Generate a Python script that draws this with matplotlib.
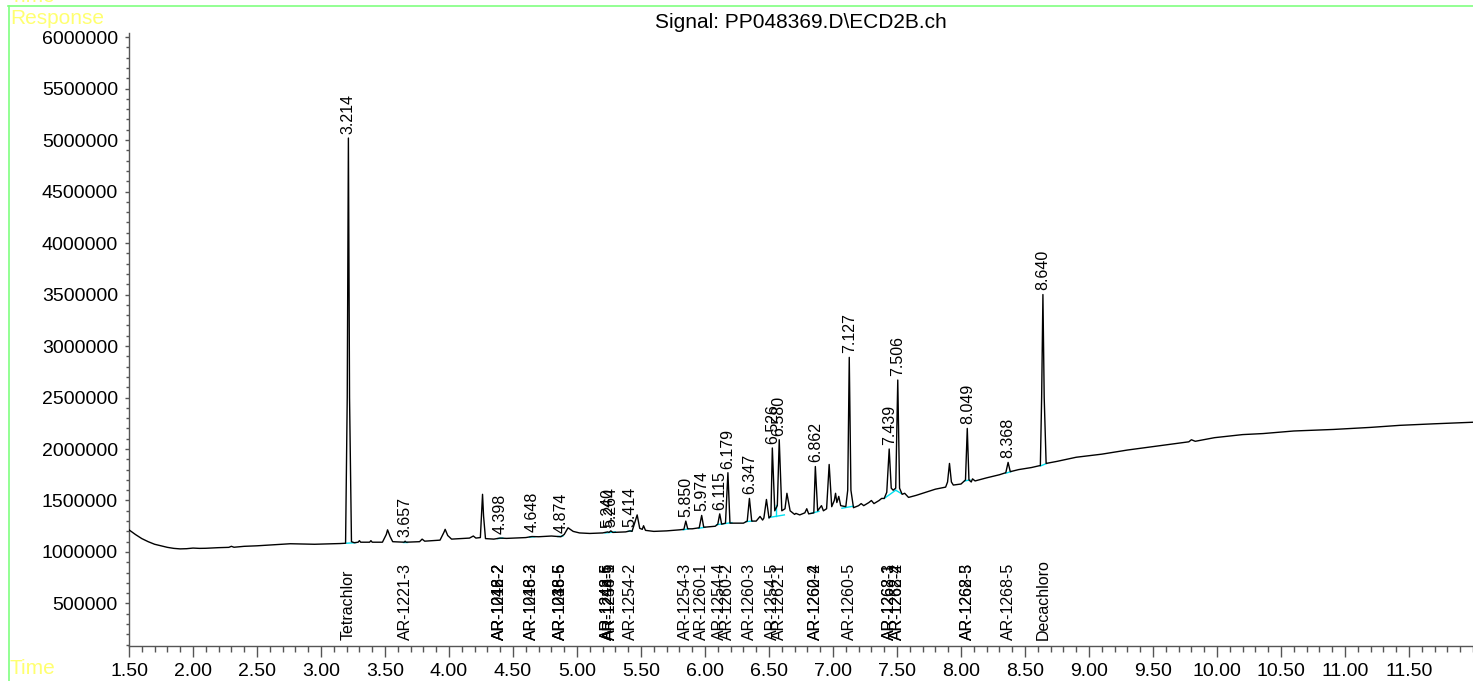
import numpy as np
import matplotlib.pyplot as plt
from matplotlib.lines import Line2D
from matplotlib.ticker import MultipleLocator, FuncFormatter

plt.rcParams['font.family'] = ['Liberation Sans', 'DejaVu Sans']

# chromatogram trace: time (min), response (millions)
trace_time = [
    1.50, 1.55, 1.60, 1.65, 1.70, 1.75, 1.80, 1.85, 1.90, 1.95, 2.00, 2.05, 2.10,
    2.20, 2.28, 2.30, 2.32, 2.40, 2.50, 2.60, 2.70, 2.76, 2.85, 2.95, 3.05, 3.15,
    3.192, 3.205, 3.214, 3.223, 3.238, 3.26, 3.29, 3.30, 3.31, 3.38, 3.39, 3.40,
    3.48, 3.51, 3.52, 3.54, 3.56, 3.65, 3.657, 3.665, 3.77, 3.79, 3.81, 3.93, 3.96,
    3.97, 3.99, 4.02, 4.16, 4.19, 4.21, 4.245, 4.255, 4.262, 4.27, 4.285, 4.35,
    4.398, 4.45, 4.60, 4.648, 4.70, 4.80, 4.874, 4.90, 4.93, 4.97, 5.02, 5.10,
    5.20, 5.240, 5.25, 5.264, 5.28, 5.38, 5.414, 5.43, 5.455, 5.47, 5.49, 5.51,
    5.52, 5.535, 5.60, 5.70, 5.80, 5.835, 5.850, 5.865, 5.90, 5.955, 5.974, 5.99,
    6.08, 6.10, 6.115, 6.13, 6.16, 6.179, 6.195, 6.30, 6.33, 6.347, 6.365, 6.40,
    6.43, 6.45, 6.46, 6.48, 6.50, 6.515, 6.526, 6.545, 6.565, 6.580, 6.60, 6.625,
    6.64, 6.665, 6.70, 6.71, 6.74, 6.78, 6.795, 6.81, 6.85, 6.862, 6.88, 6.91,
    6.925, 6.95, 6.97, 6.99, 7.01, 7.02, 7.03, 7.045, 7.06, 7.10, 7.115, 7.127,
    7.14, 7.16, 7.20, 7.22, 7.24, 7.28, 7.30, 7.32, 7.36, 7.38, 7.40, 7.42, 7.439,
    7.455, 7.47, 7.49, 7.506, 7.52, 7.54, 7.56, 7.59, 7.65, 7.70, 7.80, 7.88,
    7.895, 7.91, 7.925, 7.94, 8.00, 8.035, 8.049, 8.062, 8.08, 8.09, 8.11, 8.20,
    8.30, 8.35, 8.368, 8.385, 8.45, 8.55, 8.62, 8.630, 8.640, 8.650, 8.665, 8.75,
    8.90, 9.10, 9.30, 9.48, 9.60, 9.78, 9.80, 9.83, 9.98, 10.20, 10.36, 10.60,
    10.91, 11.20, 11.43, 11.70, 12.00,
]
trace_resp_m = [
    1.215, 1.17, 1.13, 1.10, 1.075, 1.06, 1.045, 1.035, 1.030, 1.032, 1.038, 1.035, 1.036,
    1.042, 1.045, 1.055, 1.046, 1.055, 1.060, 1.068, 1.075, 1.080, 1.078, 1.075, 1.078, 1.082,
    1.085, 2.50, 5.02, 2.50, 1.10, 1.090, 1.095, 1.11, 1.095, 1.095, 1.11, 1.095,
    1.095, 1.17, 1.215, 1.15, 1.10, 1.095, 1.105, 1.095, 1.10, 1.125, 1.105, 1.115, 1.19,
    1.22, 1.16, 1.125, 1.135, 1.155, 1.135, 1.14, 1.40, 1.56, 1.35, 1.13, 1.125,
    1.135, 1.132, 1.14, 1.15, 1.148, 1.155, 1.148, 1.17, 1.235, 1.20, 1.185, 1.18,
    1.185, 1.195, 1.19, 1.205, 1.19, 1.195, 1.205, 1.20, 1.30, 1.36, 1.23, 1.22,
    1.255, 1.21, 1.20, 1.205, 1.215, 1.22, 1.30, 1.225, 1.225, 1.235, 1.355, 1.24,
    1.25, 1.27, 1.37, 1.27, 1.28, 1.77, 1.28, 1.28, 1.30, 1.52, 1.30, 1.30,
    1.345, 1.31, 1.33, 1.51, 1.33, 1.35, 2.01, 1.40, 1.45, 2.09, 1.40, 1.42,
    1.57, 1.40, 1.365, 1.375, 1.36, 1.38, 1.42, 1.37, 1.38, 1.83, 1.40, 1.45,
    1.40, 1.42, 1.85, 1.44, 1.50, 1.57, 1.48, 1.54, 1.45, 1.44, 1.60, 2.89,
    1.60, 1.43, 1.45, 1.47, 1.45, 1.48, 1.50, 1.47, 1.50, 1.52, 1.52, 1.58, 2.00,
    1.62, 1.60, 1.62, 2.67, 1.62, 1.56, 1.57, 1.53, 1.55, 1.57, 1.61, 1.63,
    1.68, 1.86, 1.68, 1.65, 1.66, 1.70, 2.20, 1.70, 1.68, 1.71, 1.69, 1.72,
    1.75, 1.77, 1.87, 1.78, 1.80, 1.82, 1.84, 2.50, 3.50, 2.50, 1.86, 1.88,
    1.92, 1.95, 1.99, 2.02, 2.04, 2.07, 2.09, 2.075, 2.11, 2.14, 2.15, 2.175,
    2.19, 2.21, 2.23, 2.245, 2.26,
]

# labelled peaks: retention time and apex response (millions)
peak_rt = [3.214, 3.657, 4.398, 4.648, 4.874, 5.240, 5.264, 5.414, 5.850, 5.974,
           6.115, 6.179, 6.347, 6.526, 6.580, 6.862, 7.127, 7.439, 7.506, 8.049,
           8.368, 8.640]
peak_top_m = [5.02, 1.105, 1.135, 1.15, 1.148, 1.195, 1.205, 1.205, 1.30, 1.355,
              1.37, 1.77, 1.52, 2.01, 2.09, 1.83, 2.89, 2.00, 2.67, 2.20,
              1.87, 3.50]

# compound names along the bottom (several overlap at one time)
name_rt = [3.214, 3.657, 4.398, 4.398, 4.398, 4.648, 4.648, 4.874, 4.874, 4.874,
           5.240, 5.240, 5.264, 5.264, 5.414, 5.850, 5.974, 6.115, 6.179, 6.347,
           6.526, 6.580, 6.862, 6.862, 7.127, 7.439, 7.439, 7.506, 7.506, 8.049,
           8.049, 8.368, 8.640]
name_text = ["Tetrachlor", "AR-1221-3", "AR-1016-2", "AR-1242-2", "AR-1248-2",
             "AR-1016-3", "AR-1248-2", "AR-1016-5", "AR-1238-6", "AR-1248-5",
             "AR-1242-5", "AR-1248-6", "AR-1254-1", "AR-1248-5", "AR-1254-2",
             "AR-1254-3", "AR-1260-1", "AR-1254-4", "AR-1260-2", "AR-1260-3",
             "AR-1254-5", "AR-1262-1", "AR-1260-4", "AR-1262-2", "AR-1260-5",
             "AR-1268-1", "AR-1262-3", "AR-1268-2", "AR-1262-4", "AR-1268-3",
             "AR-1262-5", "AR-1268-5", "Decachloro"]

# cyan integration baselines: start/end time and response (millions)
bl_t0 = [3.195, 3.64, 4.38, 4.63, 4.85, 5.22, 5.40, 5.83, 5.95, 6.09, 6.32,
         6.50, 6.556, 6.83, 7.07, 7.40, 7.49, 8.03, 8.35, 8.62]
bl_r0 = [1.085, 1.095, 1.13, 1.145, 1.15, 1.185, 1.20, 1.215, 1.23, 1.265, 1.295,
         1.335, 1.345, 1.375, 1.425, 1.52, 1.60, 1.69, 1.765, 1.835]
bl_t1 = [3.27, 3.675, 4.42, 4.67, 4.89, 5.30, 5.43, 5.87, 6.00, 6.21, 6.37,
         6.62, 6.556, 6.89, 7.16, 7.49, 7.53, 8.07, 8.39, 8.67]
bl_r1 = [1.09, 1.095, 1.135, 1.148, 1.155, 1.195, 1.205, 1.225, 1.24, 1.285, 1.30,
         1.36, 1.46, 1.395, 1.445, 1.60, 1.57, 1.70, 1.78, 1.86]

x_ticks = np.arange(1.5, 11.51, 0.5)

fig = plt.figure(figsize=(14.73, 6.81), dpi=100)
ax = fig.add_axes([129 / 1473, 35 / 681, 1344 / 1473, 613 / 681])

resp = np.array(trace_resp_m) * 1e6
ax.plot(trace_time, resp, color='black', lw=1.0, zorder=3)

for t0, r0, t1, r1 in zip(bl_t0, bl_r0, bl_t1, bl_r1):
    ax.plot([t0, t1], [r0 * 1e6, r1 * 1e6], color='#00e0f0', lw=1.0, zorder=2)

for rt, top in zip(peak_rt, peak_top_m):
    ax.annotate(f"{rt:.3f}", (rt, top * 1e6), textcoords='offset points', xytext=(0, 3),
                rotation=90, ha='center', va='bottom', fontsize=11.5)

for rt, name in zip(name_rt, name_text):
    ax.annotate(name, (rt, 0), xycoords=('data', 'axes fraction'), textcoords='offset points',
                xytext=(0, 4), rotation=90, ha='center', va='bottom', fontsize=11.5)

ax.set_xlim(1.5, 12.0)
ax.set_ylim(87000, 6.04e6)
ax.set_xticks(x_ticks)
ax.xaxis.set_minor_locator(MultipleLocator(0.1))
ax.xaxis.set_major_formatter(FuncFormatter(lambda v, p: f"{v:.2f}"))
ax.yaxis.set_major_locator(MultipleLocator(500000))
ax.yaxis.set_minor_locator(MultipleLocator(100000))
ax.yaxis.set_major_formatter(FuncFormatter(lambda v, p: f"{int(round(v))}"))

for s in ['top', 'right']:
    ax.spines[s].set_visible(False)
for s in ['left', 'bottom']:
    ax.spines[s].set_color('#555555')
    ax.spines[s].set_linewidth(1.0)
ax.tick_params(axis='x', which='major', length=8, width=1, color='#555555', labelsize=14, pad=4)
ax.tick_params(axis='x', which='minor', length=4, width=1, color='#555555')
ax.tick_params(axis='y', which='major', length=3, width=1, color='#555555', labelsize=14, pad=5)
ax.tick_params(axis='y', which='minor', length=2, width=1, color='#555555')

fig.text(801 / 1473, 1 - 22 / 681, "Signal: PP048369.D\\ECD2B.ch", ha='center', va='center', fontsize=15)

# frame and yellow axis captions of the original report
fig.add_artist(Line2D([8 / 1473, 1.0], [1 - 5.5 / 681, 1 - 5.5 / 681], color='#80ff80', lw=1.2))
fig.add_artist(Line2D([8.5 / 1473, 8.5 / 1473], [0, 1 - 5.5 / 681], color='#80ff80', lw=1.2))
fig.text(10 / 1473, 1 - 18 / 681, "Response", ha='left', va='center', fontsize=15, color='#ffff70')
fig.text(10 / 1473, 1 + 3 / 681, "Time", ha='left', va='center', fontsize=15, color='#ffff70')
fig.text(10 / 1473, 1 - 669 / 681, "Time", ha='left', va='center', fontsize=15, color='#ffff70')

fig.savefig("out.png", dpi=100)
